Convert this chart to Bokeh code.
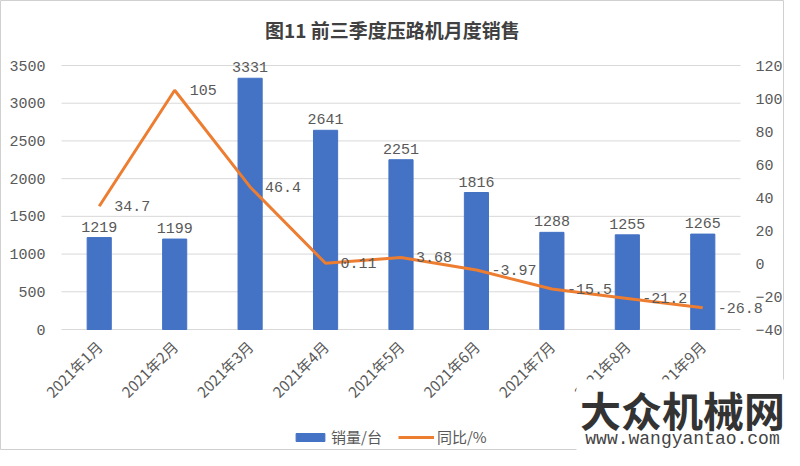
from math import pi
from bokeh.plotting import figure
from bokeh.models import (ColumnDataSource, Range1d, LinearAxis, FixedTicker,
                          Legend, LegendItem, Label, BoxAnnotation)
from bokeh.core.properties import value
from bokeh.embed import file_html
from bokeh.resources import INLINE

months = ["2021年1月", "2021年2月", "2021年3月", "2021年4月", "2021年5月",
          "2021年6月", "2021年7月", "2021年8月", "2021年9月"]
sales = [1219, 1199, 3331, 2641, 2251, 1816, 1288, 1255, 1265]
yoy = [34.7, 105, 46.4, 0.11, 3.68, -3.97, -15.5, -21.2, -26.8]
yoy_labels = ["34.7", "105", "46.4", "0.11", "3.68", "-3.97", "-15.5", "-21.2", "-26.8"]
left_ticks = [0, 500, 1000, 1500, 2000, 2500, 3000, 3500]
right_ticks = [-40, -20, 0, 20, 40, 60, 80, 100, 120]

BLUE = "#4472C4"
ORANGE = "#ED7D31"
GRAY = "#595959"
NUM_FONT = "Liberation Mono"
CJK = "Noto Sans CJK SC"

W, H = 784, 450
# plot-area placement (pixels in the figure)
F_LEFT, F_RIGHT, F_TOP, F_BOTTOM = 61, 740, 65, 329

n = len(months)
xs = list(range(1, n + 1))
x_lo, x_hi = 0.5, n + 0.5
ppu = (F_RIGHT - F_LEFT) / (x_hi - x_lo)
x_start = x_lo - F_LEFT / ppu
x_end = x_start + W / ppu

l_lo, l_hi = left_ticks[0], left_ticks[-1]
upp = (l_hi - l_lo) / (F_BOTTOM - F_TOP)
y_start = l_lo - (H - F_BOTTOM) * upp
y_end = l_hi + F_TOP * upp

r_lo, r_hi = right_ticks[0], right_ticks[-1]
rupp = (r_hi - r_lo) / (F_BOTTOM - F_TOP)
r_start = r_lo - (H - F_BOTTOM) * rupp
r_end = r_hi + F_TOP * rupp

src = ColumnDataSource(dict(x=xs, s=sales, y=yoy, sl=[str(v) for v in sales], yl=yoy_labels))

p = figure(width=W, height=H, x_range=Range1d(x_start, x_end), y_range=Range1d(y_start, y_end),
           x_axis_type=None, y_axis_type=None,
           output_backend="svg", toolbar_location=None,
           min_border_left=0, min_border_right=0, min_border_top=0, min_border_bottom=0)
p.extra_y_ranges = {"pct": Range1d(r_start, r_end)}
p.outline_line_color = "#D0D0D0"
p.background_fill_color = "white"
p.border_fill_color = "white"
p.xgrid.visible = False
p.ygrid.visible = False

# horizontal gridlines at the left-axis ticks
p.segment(x0=[x_lo] * len(left_ticks), x1=[x_hi] * len(left_ticks), y0=left_ticks, y1=left_ticks,
          line_color="#D9D9D9", line_width=1)

bars = p.vbar(x="x", top="s", width=0.32, color=BLUE, source=src)
line = p.line(x="x", y="y", y_range_name="pct", line_color=ORANGE, line_width=3, source=src)

p.text(x="x", y="s", text="sl", source=src, text_align="center", text_baseline="bottom",
       y_offset=-6, text_font=value(NUM_FONT), text_font_size="15px", text_color=GRAY)
p.text(x="x", y="y", text="yl", source=src, y_range_name="pct", text_align="left",
       text_baseline="middle", x_offset=15, text_font=value(NUM_FONT), text_font_size="15px",
       text_color=GRAY)


def style(a, font, size):
    a.axis_line_color = None
    a.major_tick_line_color = None
    a.minor_tick_line_color = None
    a.major_label_text_font = font
    a.major_label_text_font_size = size
    a.major_label_text_color = GRAY


lax = LinearAxis(ticker=FixedTicker(ticks=left_ticks), fixed_location=x_lo)
style(lax, NUM_FONT, "15px")
lax.major_label_standoff = 10
p.add_layout(lax, "left")

rax = LinearAxis(y_range_name="pct", ticker=FixedTicker(ticks=right_ticks), fixed_location=x_hi)
style(rax, NUM_FONT, "15px")
rax.major_label_standoff = 9
p.add_layout(rax, "right")

xax = LinearAxis(ticker=FixedTicker(ticks=xs), fixed_location=l_lo,
                 major_label_overrides={x: m for x, m in zip(xs, months)})
style(xax, CJK, "15px")
xax.major_label_orientation = pi / 4
xax.major_label_standoff = 8
p.add_layout(xax, "below")

legend = Legend(items=[LegendItem(label="销量/台", renderers=[bars]),
                       LegendItem(label="同比/%", renderers=[line])],
                orientation="horizontal", location=(292, 3), border_line_color=None,
                background_fill_alpha=0,
                label_text_font=CJK, label_text_font_size="15px", label_text_color=GRAY,
                glyph_width=36, glyph_height=10, spacing=16, padding=2, margin=0,
                label_standoff=3)
p.add_layout(legend, "center")

p.add_layout(Label(x=394, y=H - 29, x_units="screen", y_units="screen",
                   text="图11  前三季度压路机月度销售",
                   text_font=CJK, text_font_style="bold", text_font_size="19px",
                   text_color="#404040", text_align="center", text_baseline="middle"))

# watermark
p.add_layout(BoxAnnotation(left=576, right=W, bottom=0, top=H - 379,
                           left_units="screen", right_units="screen",
                           bottom_units="screen", top_units="screen",
                           fill_color="white", fill_alpha=1, line_color=None))
p.add_layout(Label(x=682, y=H - 408, x_units="screen", y_units="screen", text="大众机械网",
                   text_font=CJK, text_font_style="bold", text_font_size="41px",
                   text_color="#333333", text_align="center", text_baseline="middle"))
p.add_layout(Label(x=682, y=H - 438, x_units="screen", y_units="screen", text="www.wangyantao.com",
                   text_font=NUM_FONT, text_font_size="18px",
                   text_color="#444444", text_align="center", text_baseline="middle"))

open("out.html", "w").write(file_html(p, INLINE))
